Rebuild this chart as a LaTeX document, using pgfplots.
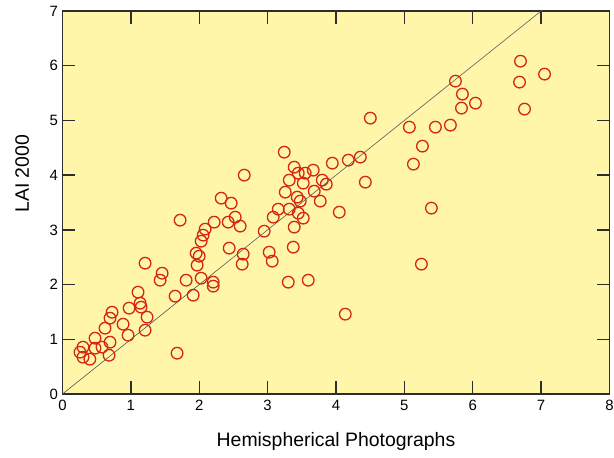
\documentclass[border=0pt]{standalone}
\usepackage{fontspec}
\setmainfont{Liberation Sans}
\usepackage{pgfplots}
\pgfplotsset{compat=1.18}
\definecolor{bgyellow}{RGB}{255,246,170}
\definecolor{ptred}{RGB}{214,38,18}
\definecolor{framegray}{RGB}{45,45,45}
\begin{document}
\begin{tikzpicture}
\begin{axis}[
  name=ax,
  scale only axis,
  width=547bp, height=383bp,
  xmin=0, xmax=8, ymin=0, ymax=7,
  xtick={0,...,8}, ytick={0,...,7},
  axis background/.style={fill=bgyellow},
  axis line style={framegray, line width=1.6pt},
  tick style={framegray, line width=1.3pt},
  tick align=inside,
  major tick length=13bp,
  xtick pos=both, ytick pos=both,
  xticklabel pos=lower, yticklabel pos=left,
  /pgf/number format/assume math mode=true,
  ticklabel style={font=\fontsize{15}{17}\selectfont},
  xticklabel style={yshift=-3bp},
  yticklabel style={xshift=-1bp},
  label style={font=\fontsize{19.5}{22}\selectfont},
  xlabel={Hemispherical Photographs},
  ylabel={LAI 2000},
  xlabel style={at={(axis description cs:0.5,0)}, anchor=base, yshift=-52bp},
  ylabel style={at={(axis description cs:-0.0735,0.575)}, anchor=center},
  clip=true,
]
\addplot[black!65, line width=0.6pt, forget plot] coordinates {(0,0) (8,8)};
\addplot[only marks, mark=o, mark size=5.8bp, mark options={ptred, line width=1.3pt}] coordinates {
(0.30,0.856) (0.256,0.764) (0.30,0.673) (0.40,0.636) (0.476,0.837) (0.476,1.02)
(0.578,0.856) (0.622,1.203) (0.695,0.947) (0.681,0.709) (0.695,1.386) (0.725,1.495)
(0.886,1.276) (0.959,1.075) (0.974,1.569) (1.105,1.861) (1.135,1.660) (1.149,1.587)
(1.237,1.404) (1.208,1.166) (1.208,2.391) (1.457,2.208) (1.428,2.080) (1.676,0.746)
(1.647,1.788) (1.72,3.177) (1.808,2.080) (1.911,1.806) (1.955,2.574) (1.999,2.519)
(1.969,2.355) (2.028,2.793) (2.057,2.903) (2.086,3.013) (2.028,2.117) (2.204,2.044)
(2.204,1.971) (2.218,3.141) (2.321,3.579) (2.467,3.488) (2.526,3.232) (2.423,3.141)
(2.438,2.666) (2.599,3.068) (2.658,4.0) (2.643,2.556) (2.628,2.373) (2.95,2.976)
(3.023,2.592) (3.067,2.428) (3.082,3.232) (3.155,3.378) (3.243,4.420) (3.258,3.689)
(3.316,3.909) (3.316,3.378) (3.302,2.044) (3.375,2.684) (3.389,3.05) (3.389,4.146)
(3.433,3.598) (3.448,3.305) (3.448,4.036) (3.477,3.525) (3.521,3.214) (3.521,3.854)
(3.55,4.036) (3.594,2.080) (3.667,4.091) (3.682,3.707) (3.77,3.525) (3.799,3.909)
(3.858,3.835) (3.946,4.219) (4.048,3.323) (4.136,1.459) (4.180,4.274) (4.356,4.329)
(4.429,3.872) (4.502,5.042) (5.073,4.877) (5.132,4.201) (5.264,4.530) (5.249,2.373)
(5.395,3.397) (5.454,4.877) (5.673,4.914) (5.747,5.718) (5.849,5.481) (5.835,5.225)
(6.04,5.316) (6.698,6.083) (6.684,5.7) (6.757,5.207) (7.05,5.846)
};
\end{axis}
\pgfresetboundingbox
\path[use as bounding box] ([shift={(-62.5bp,-64bp)}]ax.south west) rectangle ([shift={(4.5bp,11bp)}]ax.north east);
\end{tikzpicture}
\end{document}
